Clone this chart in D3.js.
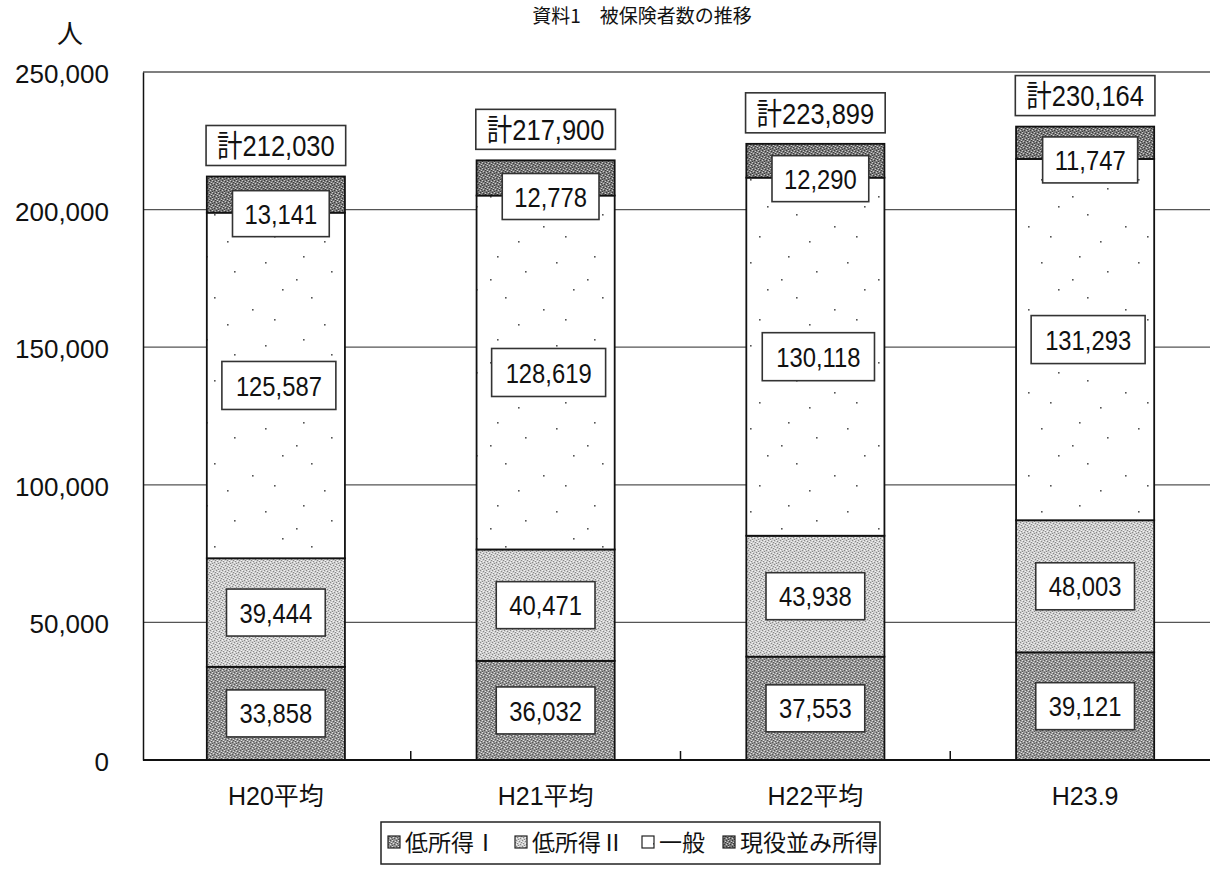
<!DOCTYPE html>
<html lang="ja">
<head>
  <meta charset="UTF-8" />
  <script src="https://d3js.org/d3.v7.min.js"></script>
  <title>被保険者数の推移</title>
  <style>body{margin:0;background:#fff;}</style>
</head>
<body>
<script type="text/javascript">
	var categories = ["H20平均", "H21平均", "H22平均", "H23.9"];
	var low1 = [33858, 36032, 37553, 39121];
	var low2 = [39444, 40471, 43938, 48003];
	var general = [125587, 128619, 130118, 131293];
	var active = [13141, 12778, 12290, 11747];
	var totals = [212030, 217900, 223899, 230164];
	var seriesNames = ["低所得Ⅰ", "低所得Ⅱ", "一般", "現役並み所得"];
	var yTicks = [0, 50000, 100000, 150000, 200000, 250000];

	var width = 1210; var height = 878;
	var svg = d3.select("body").append("svg").attr("width", width).attr("height", height);
	var numFont = "'Liberation Sans', Arial, 'Noto Sans CJK JP', sans-serif";
	var jpFont = "'Noto Sans CJK JP', sans-serif";

	// textures for the four series
	var defs = svg.append("defs");
	function grain(id, base, dark, light) {
		var p = defs.append("pattern").attr("id", id).attr("width", 6).attr("height", 6).attr("patternUnits", "userSpaceOnUse");
		p.append("rect").attr("width", 6).attr("height", 6).attr("fill", base);
		[[0,0],[3,1],[1,3],[4,4],[2,5],[5,2]].forEach(function(d){ p.append("rect").attr("x", d[0]).attr("y", d[1]).attr("width", 1).attr("height", 1).attr("fill", dark); });
		[[2,0],[5,1],[0,4],[3,3],[1,2]].forEach(function(d){ p.append("rect").attr("x", d[0]).attr("y", d[1]).attr("width", 1).attr("height", 1).attr("fill", light); });
	}
	grain("pLow1", "#959595", "#555555", "#e0e0e0");
	grain("pLow2", "#cecece", "#888888", "#f4f4f4");
	grain("pActive", "#7a7a7a", "#3a3a3a", "#cccccc");
	var pg = defs.append("pattern").attr("id", "pGen").attr("width", 97).attr("height", 83).attr("patternUnits", "userSpaceOnUse");
	pg.append("rect").attr("width", 97).attr("height", 83).attr("fill", "#fff");
	[[12,7],[40,22],[71,13],[20,48],[58,60],[88,40],[33,75],[80,70],[5,30]].forEach(function(d){
		pg.append("rect").attr("x", d[0]).attr("y", d[1]).attr("width", 1.6).attr("height", 1.6).attr("fill", "#555");
	});
	var fills = { low1: "url(#pLow1)", low2: "url(#pLow2)", general: "url(#pGen)", active: "url(#pActive)" };

	var x = d3.scaleBand().domain(categories).range([141, 1220]).paddingInner(0.488).paddingOuter(0.244);
	var y = d3.scaleLinear().domain([0, 250000]).range([760, 72]);

	// gridlines
	svg.append("g").selectAll("line").data(yTicks.slice(1)).enter().append("line")
		.attr("x1", 143).attr("x2", width).attr("y1", function(d){return y(d);}).attr("y2", function(d){return y(d);})
		.attr("stroke", "#555").attr("stroke-width", 1.3);

	// stacked bars
	var rows = categories.map(function(c, i){ return {cat: c, low1: low1[i], low2: low2[i], general: general[i], active: active[i]}; });
	var keys = ["low1", "low2", "general", "active"];
	var stacked = d3.stack().keys(keys)(rows);
	svg.append("g").selectAll("g").data(stacked).enter().append("g")
		.attr("fill", function(s){return fills[s.key];})
		.selectAll("rect").data(function(s){return s;}).enter().append("rect")
		.attr("x", function(d){return x(d.data.cat);})
		.attr("width", x.bandwidth())
		.attr("y", function(d){return y(d[1]);})
		.attr("height", function(d){return y(d[0]) - y(d[1]);})
		.attr("stroke", "#111").attr("stroke-width", 1.8);

	// axes
	var yAxis = svg.append("g").attr("transform", "translate(143,0)")
		.call(d3.axisLeft(y).tickValues(yTicks).tickSize(0).tickSizeOuter(0).tickPadding(34).tickFormat(d3.format(",")));
	yAxis.select(".domain").attr("stroke", "#111").attr("stroke-width", 1.5);
	yAxis.selectAll("text").attr("font-family", numFont).attr("font-size", 26).attr("fill", "#111").attr("dy", "0.4em");

	var xAxis = svg.append("g").attr("transform", "translate(0,760)")
		.call(d3.axisBottom(x).tickSize(0).tickPadding(27));
	xAxis.select(".domain").remove();
	xAxis.selectAll("text").attr("font-family", numFont).attr("font-size", 25).attr("fill", "#111");
	svg.append("line").attr("x1", 143).attr("x2", width).attr("y1", 760).attr("y2", 760).attr("stroke", "#111").attr("stroke-width", 2);
	svg.append("g").selectAll("line").data(categories.slice(1)).enter().append("line")
		.attr("x1", function(d){return x(d) - x.step() * x.paddingInner() / 2;})
		.attr("x2", function(d){return x(d) - x.step() * x.paddingInner() / 2;})
		.attr("y1", 760).attr("y2", 751).attr("stroke", "#111").attr("stroke-width", 1.5);

	// boxed value labels
	function labelBox(cx, cy, txt, size, pad, h) {
		var g = svg.append("g").attr("transform", "translate(" + cx + "," + cy + ")");
		var r = g.append("rect");
		var t = g.append("text").attr("transform", "scale(0.85,1)").attr("text-anchor", "middle").attr("dy", "0.36em")
			.attr("font-family", numFont).attr("font-size", size).attr("fill", "#111").text(txt);
		var w = t.node().getComputedTextLength() * 0.85 + 2 * pad;
		r.attr("x", -w / 2).attr("y", -h / 2).attr("width", w).attr("height", h)
			.attr("fill", "#fff").attr("stroke", "#333").attr("stroke-width", 1.6);
	}
	var fmt = d3.format(",");
	rows.forEach(function(r, i){
		var cx = x(r.cat) + x.bandwidth() / 2;
		labelBox(cx, y(low1[i] / 2), fmt(low1[i]), 28, 13, 47);
		labelBox(cx, y(low1[i] + low2[i] / 2), fmt(low2[i]), 28, 13, 47);
		labelBox(cx + 3, y(low1[i] + low2[i] + general[i] / 2), fmt(general[i]), 28, 14, 48);
		labelBox(cx + 5, y(low1[i] + low2[i] + general[i]) + 1, fmt(active[i]), 28, 12, 46);
		labelBox(cx, y(totals[i]) - 31, "計" + fmt(totals[i]), 30, 11, 40);
	});

	// title and unit
	svg.append("text").attr("x", 642).attr("y", 23).attr("text-anchor", "middle")
		.attr("font-family", jpFont).attr("font-size", 19).attr("fill", "#111").text("資料1　被保険者数の推移");
	svg.append("text").attr("x", 70).attr("y", 43).attr("text-anchor", "middle")
		.attr("font-family", jpFont).attr("font-size", 26).attr("fill", "#111").text("人");

	// legend
	var legend = svg.append("g");
	legend.append("rect").attr("x", 381).attr("y", 822).attr("width", 499).attr("height", 42)
		.attr("fill", "#fff").attr("stroke", "#222").attr("stroke-width", 1.5);
	var lx = 388;
	keys.forEach(function(k, i){
		legend.append("rect").attr("x", lx).attr("y", 836).attr("width", 12).attr("height", 12)
			.attr("fill", fills[k]).attr("stroke", "#222").attr("stroke-width", 1.2);
		var t = legend.append("text").attr("x", lx + 17).attr("y", 851)
			.attr("font-family", jpFont).attr("font-size", 23).attr("fill", "#111").text(seriesNames[i]);
		lx += 17 + t.node().getComputedTextLength() + 18;
	});
</script>
</body>
</html>
